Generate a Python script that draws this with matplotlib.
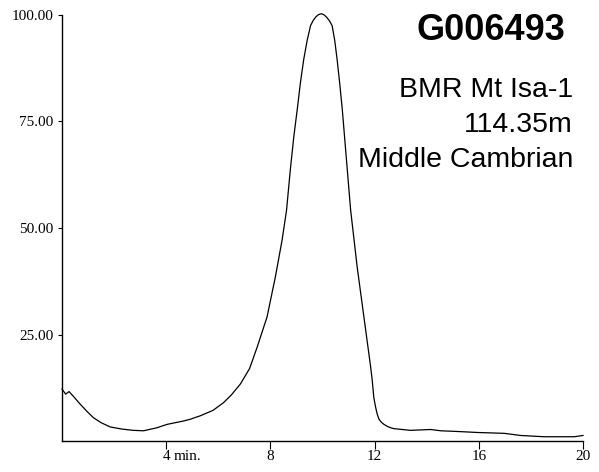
import matplotlib
matplotlib.use('Agg')
import matplotlib.pyplot as plt


# chromatogram trace (time in min, relative intensity)
t = [0.0, 0.14, 0.27, 0.45, 0.69, 0.95, 1.2, 1.5, 1.85, 2.3, 2.74, 3.13,
     3.64, 4.03, 4.67, 4.92, 5.3, 5.8, 6.2, 6.5, 6.85, 7.2, 7.49, 7.87,
     8.19, 8.45, 8.62, 8.77, 8.9, 9.03, 9.15, 9.28, 9.41, 9.54, 9.65, 9.75,
     9.85, 9.96, 10.07, 10.17, 10.27, 10.37, 10.47, 10.56, 10.66, 10.76,
     10.92, 11.08, 11.33, 11.59, 11.85, 11.91, 11.97, 12.04, 12.1, 12.17,
     12.26, 12.36, 12.5, 12.62, 12.74, 13.38, 14.15, 14.54, 15.3, 15.95,
     16.97, 17.6, 18.5, 19.67, 20.0]
intensity = [12.2, 11.0, 11.6, 10.4, 8.7, 7.0, 5.5, 4.3, 3.3, 2.8, 2.5, 2.4,
             3.1, 3.9, 4.7, 5.1, 5.9, 7.2, 9.0, 10.8, 13.4, 17.0, 22.0, 29.1,
             38.5, 47.2, 54.2, 64.0, 71.5, 77.8, 84.0, 89.6, 94.0, 97.5, 98.8, 99.6,
             100.1, 100.3, 100.0, 99.4, 98.6, 97.5, 94.0, 89.6, 84.0, 77.8,
             66.0, 54.2, 40.9, 29.1, 17.3, 14.2, 10.2, 7.9, 6.3, 5.1,
             4.4, 3.9, 3.4, 3.1, 2.9, 2.5, 2.7, 2.4, 2.2, 2.0,
             1.8, 1.3, 1.0, 1.0, 1.3]

xticks = [4, 8, 12, 16, 20]
xlabels = ['4', '8', '12', '16', '20']
yticks = [25, 50, 75, 100]
ylabels = ['25.00', '50.00', '75.00', '100.00']

sample = 'G006493'
info = ['BMR Mt Isa-1', '114.35m', 'Middle Cambrian']


W, H = 599, 472
fig = plt.figure(figsize=(W / 100, H / 100), dpi=100)
ax = fig.add_axes([62 / W, 1 - 441 / H, (583 - 62) / W, (441 - 15) / H])

ax.plot(t, intensity, color='black', lw=0.9, clip_on=False)

ax.set_xlim(0, 20)
ax.set_ylim(0, 100)
for s in ('top', 'right'):
    ax.spines[s].set_visible(False)
for s in ('left', 'bottom'):
    ax.spines[s].set_linewidth(1.0)

serif = 'Liberation Serif'
ax.set_xticks(xticks)
ax.set_xticklabels(xlabels, family=serif, fontsize=11)
ax.set_yticks(yticks)
ax.set_yticklabels(ylabels, family=serif, fontsize=11)
ax.tick_params(axis='x', direction='out', length=5.8, width=0.8, pad=1)
ax.tick_params(axis='y', direction='out', length=3, width=0.8, pad=3)

# "min." after the first x tick label
ax.annotate('min.', xy=(4, 0), xycoords=('data', 'axes fraction'),
            xytext=(5.6, -6.8), textcoords='offset points',
            ha='left', va='top', family=serif, fontsize=11)

sans = 'Liberation Sans'
fig.text(565 / W, 1 - 40 / H, sample, ha='right', va='baseline',
         family=sans, fontsize=26, fontweight='bold')
for i, line in enumerate(info):
    fig.text(573 / W, 1 - (97 + 35 * i) / H, line, ha='right', va='baseline',
             family=sans, fontsize=20.5)

fig.savefig('out.png', dpi=100)
